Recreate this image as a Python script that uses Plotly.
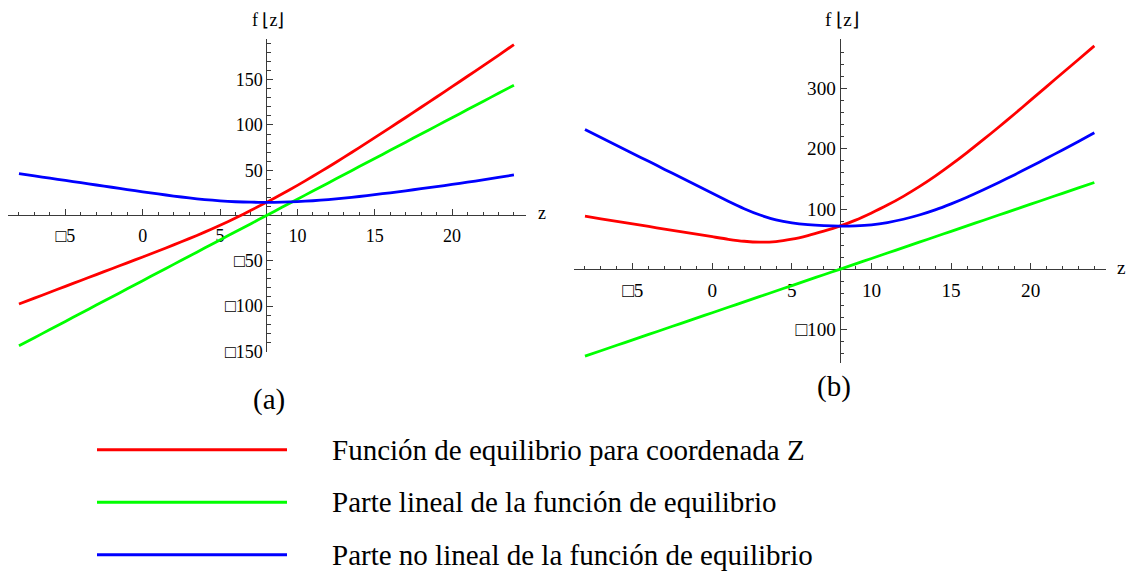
import plotly.graph_objects as go

# ---------------- data ----------------
z = list(range(-8, 25))

# panel (a)
red_a = [-97.8, -91.3, -84.8, -78.3, -71.8, -65.3, -58.8, -52.3, -45.8, -39.2,
         -32.5, -25.6, -18.4, -10.8, -2.8, 5.7, 14.5, 23.7, 33.3, 43.3,
         53.6, 64.2, 75.0, 86.0, 97.1, 108.3, 119.6, 130.9, 142.3, 153.8,
         165.3, 177.0, 188.8]
green_a = [-144, -135, -126, -117, -108, -99, -90, -81, -72, -63,
           -54, -45, -36, -27, -18, -9, 0, 9, 18, 27,
           36, 45, 54, 63, 72, 81, 90, 99, 108, 117,
           126, 135, 144]
blue_a = [46.2, 43.7, 41.2, 38.7, 36.2, 33.7, 31.2, 28.7, 26.2, 23.8,
          21.5, 19.4, 17.6, 16.2, 15.2, 14.7, 14.5, 14.7, 15.3, 16.3,
          17.6, 19.2, 21.0, 23.0, 25.1, 27.3, 29.6, 31.9, 34.3, 36.8,
          39.3, 42.0, 44.8]

# panel (b)
red_b = [88.0, 83.7, 79.5, 75.2, 71.0, 66.7, 62.5, 58.2, 54.0, 49.8,
         46.5, 45.0, 46.0, 50.0, 56.0, 63.3, 71.5, 81.5, 93.5, 106.5,
         121.0, 137.0, 154.5, 173.5, 193.5, 214.5, 236.0, 258.0, 280.5, 303.0,
         325.5, 348.0, 370.5]
green_b = [-144, -135, -126, -117, -108, -99, -90, -81, -72, -63,
           -54, -45, -36, -27, -18, -9, 0, 9, 18, 27,
           36, 45, 54, 63, 72, 81, 90, 99, 108, 117,
           126, 135, 144]
blue_b = [232.0, 218.7, 205.5, 192.2, 179.0, 165.7, 152.5, 139.2, 126.0, 112.8,
          100.5, 90.0, 82.0, 77.0, 74.0, 72.3, 71.5, 72.0, 73.8, 77.5,
          83.0, 90.0, 98.5, 108.5, 119.5, 131.5, 144.0, 157.0, 170.5, 184.0,
          198.0, 212.0, 226.5]

series_names = ["Función de equilibrio para coordenada Z",
                "Parte lineal de la función de equilibrio",
                "Parte no lineal de la función de equilibrio"]
colors = ["#FF0000", "#00FF00", "#0000FF"]

x_tickvals = [-5, 0, 5, 10, 15, 20]
x_ticktext = ["\u25a15", "0", "5", "10", "15", "20"]
ya_tickvals = [-150, -100, -50, 50, 100, 150]
ya_ticktext = ["\u25a1150", "\u25a1100", "\u25a150", "50", "100", "150"]
yb_tickvals = [-100, 100, 200, 300]
yb_ticktext = ["\u25a1100", "100", "200", "300"]

# ---------------- layout geometry ----------------
W, H = 1130, 581
FONT = "Liberation Serif, Times New Roman, serif"
AX_COLOR = "#3a3a3a"

panels = {
    "a": dict(px=(8.3, 525.7), py=(39.3, 357.7), xr=(-8.69, 24.76), yr=(-150.3, 195.4), fs=18.0),
    "b": dict(px=(574.0, 1105.5), py=(40.0, 369.0), xr=(-8.69, 24.70), yr=(-154.8, 381.4), fs=19.2),
}

def geom(p):
    x0, x1 = p["px"]
    y0, y1 = p["py"]
    xmin, xmax = p["xr"]
    ymin, ymax = p["yr"]
    dom_x = [x0 / W, x1 / W]
    dom_y = [1 - y1 / H, 1 - y0 / H]
    ypos = (x0 + (8 - xmin) / (xmax - xmin) * (x1 - x0)) / W     # y axis at z = 8
    xpos = 1 - (y0 + (ymax - 0) / (ymax - ymin) * (y1 - y0)) / H   # x axis at f = 0
    return dom_x, dom_y, xpos, ypos

fig = go.Figure()

data_sets = {"a": (red_a, green_a, blue_a), "b": (red_b, green_b, blue_b)}
for key, (xa, ya) in {"a": ("x", "y"), "b": ("x2", "y2")}.items():
    for vals, name, col in zip(data_sets[key], series_names, colors):
        fig.add_trace(go.Scatter(
            x=z, y=vals, mode="lines", name=name, xaxis=xa, yaxis=ya,
            line=dict(color=col, width=2.8, shape="spline", smoothing=0.6),
            showlegend=False, hoverinfo="skip"))

def xaxis_cfg(p, xpos, dom_x):
    return dict(domain=dom_x, range=list(p["xr"]), anchor="free", position=xpos,
                showgrid=False, zeroline=False, showline=True, linecolor=AX_COLOR,
                linewidth=1, ticks="inside", ticklen=6, tickwidth=1, tickcolor=AX_COLOR,
                tickmode="array", tickvals=x_tickvals, ticktext=x_ticktext,
                tickfont=dict(family=FONT, size=p["fs"], color="black"),
                ticklabelstandoff=4,
                layer="below traces", fixedrange=True,
                minor=dict(dtick=1, tick0=0, ticks="inside", ticklen=3.5,
                           tickwidth=1, tickcolor=AX_COLOR, showgrid=False))

def yaxis_cfg(p, ypos, dom_y, tv, tt, mdt):
    return dict(domain=dom_y, range=list(p["yr"]), anchor="free", position=ypos,
                side="left", showgrid=False, zeroline=False, showline=True,
                linecolor=AX_COLOR, linewidth=1, ticks="inside", ticklen=6,
                tickwidth=1, tickcolor=AX_COLOR, tickmode="array", tickvals=tv,
                ticktext=tt, tickfont=dict(family=FONT, size=p["fs"], color="black"),
                layer="below traces", fixedrange=True,
                minor=dict(dtick=mdt, tick0=0, ticks="inside", ticklen=3.5,
                           tickwidth=1, tickcolor=AX_COLOR, showgrid=False))

ga = geom(panels["a"])
gb = geom(panels["b"])

fig.update_layout(
    width=W, height=H,
    margin=dict(l=0, r=0, t=0, b=0),
    paper_bgcolor="white", plot_bgcolor="white",
    showlegend=False,
    xaxis=xaxis_cfg(panels["a"], ga[2], ga[0]),
    yaxis=yaxis_cfg(panels["a"], ga[3], ga[1], ya_tickvals, ya_ticktext, 10),
    xaxis2=xaxis_cfg(panels["b"], gb[2], gb[0]),
    yaxis2=yaxis_cfg(panels["b"], gb[3], gb[1], yb_tickvals, yb_ticktext, 20),
)

annotations = []
shapes = []
# axis labels
for (zx_px, zy_px, fx_px, fs) in [(542.0, 217.0, 268.0, 18.0), (1121.0, 272.0, 842.0, 19.2)]:
    annotations.append(dict(text="z", xref="paper", yref="paper", x=zx_px / W, y=1 - zy_px / H,
                            xanchor="center", yanchor="middle", showarrow=False,
                            font=dict(family=FONT, size=fs, color="black")))
    annotations.append(dict(text="f \u230az\u230b", xref="paper", yref="paper",
                            x=fx_px / W, y=1 - 20 / H, xanchor="center", yanchor="middle",
                            showarrow=False, font=dict(family=FONT, size=fs, color="black")))
# panel captions
for txt, cx, cy in [("(a)", 268.5, 406.5), ("(b)", 834, 393)]:
    annotations.append(dict(text=txt, xref="paper", yref="paper", x=cx / W, y=1 - cy / H,
                            xanchor="center", yanchor="middle", showarrow=False,
                            font=dict(family=FONT, size=29, color="black")))
# custom legend
legend_y = [457.5, 511, 564.5]
for name, col, ly in zip(series_names, colors, legend_y):
    shapes.append(dict(type="line", xref="paper", yref="paper",
                       x0=97 / W, x1=287 / W, y0=1 - ly / H, y1=1 - ly / H,
                       line=dict(color=col, width=3)))
    annotations.append(dict(text=name, xref="paper", yref="paper", x=330 / W, y=1 - ly / H,
                            xanchor="left", yanchor="middle", showarrow=False,
                            font=dict(family=FONT, size=29, color="black")))

fig.update_layout(annotations=annotations, shapes=shapes)
fig.write_html("out.html")
